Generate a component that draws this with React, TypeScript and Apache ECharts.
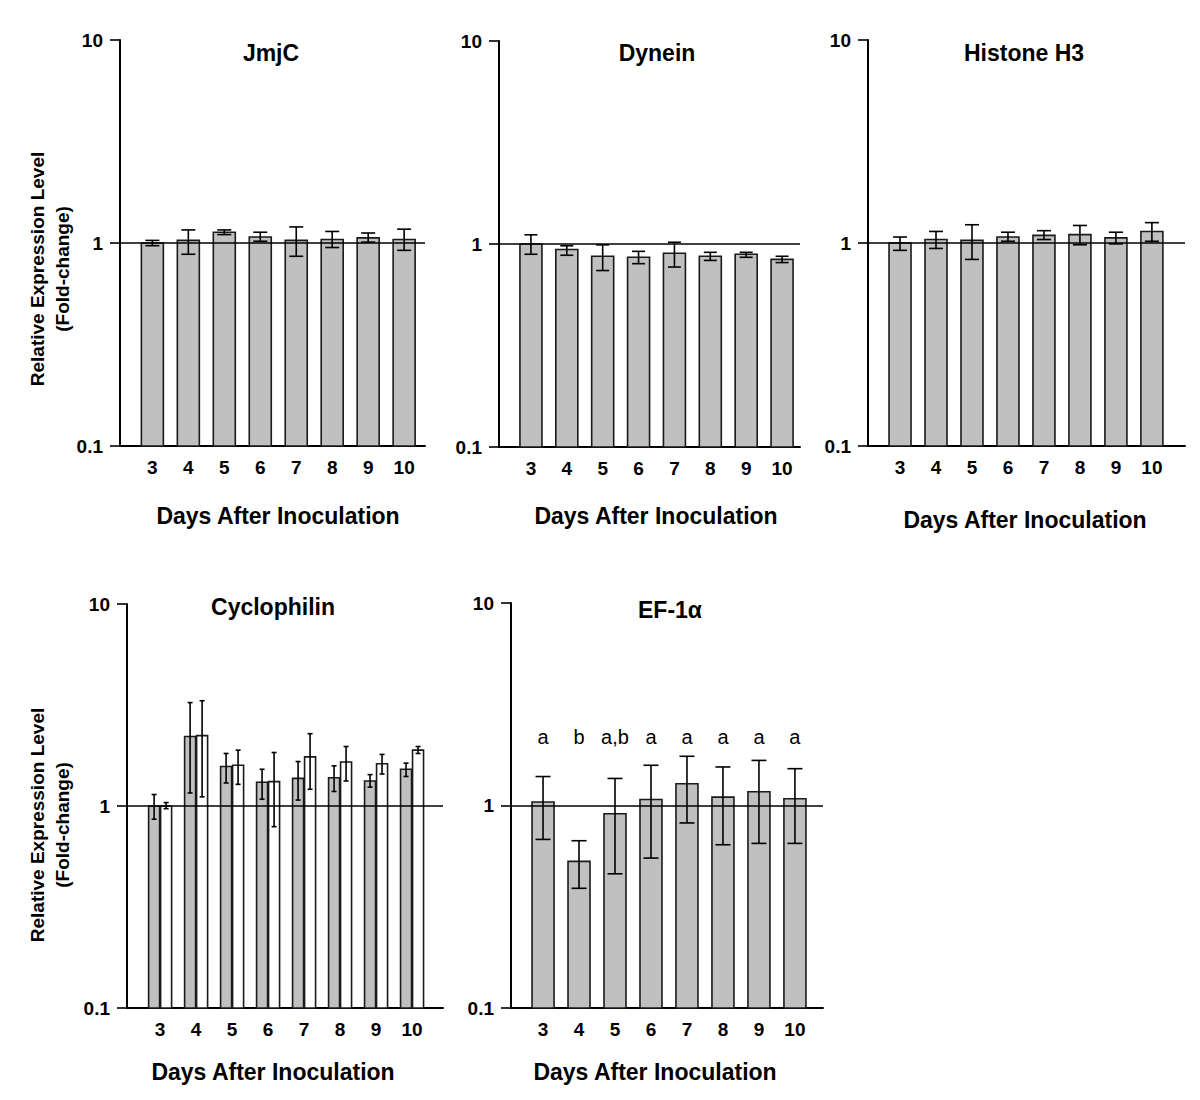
import React, { useEffect, useRef } from "react";
import * as echarts from "echarts";

const days = [3, 4, 5, 6, 7, 8, 9, 10];
const yTicks = [0.1, 1, 10];

const jmjcMean = [1.0, 1.03, 1.13, 1.07, 1.03, 1.04, 1.06, 1.04];
const jmjcLow = [0.97, 0.88, 1.1, 1.02, 0.86, 0.95, 1.01, 0.92];
const jmjcHigh = [1.03, 1.16, 1.16, 1.13, 1.2, 1.14, 1.12, 1.17];

const dyneinMean = [1.0, 0.94, 0.87, 0.86, 0.9, 0.87, 0.89, 0.84];
const dyneinLow = [0.89, 0.88, 0.74, 0.8, 0.77, 0.83, 0.86, 0.81];
const dyneinHigh = [1.11, 0.98, 0.99, 0.92, 1.02, 0.91, 0.91, 0.87];

const histoneMean = [1.0, 1.04, 1.03, 1.07, 1.09, 1.1, 1.06, 1.14];
const histoneLow = [0.92, 0.94, 0.83, 1.02, 1.04, 0.98, 0.99, 1.02];
const histoneHigh = [1.07, 1.14, 1.23, 1.13, 1.15, 1.22, 1.13, 1.26];

const cycloGrayMean = [1.0, 2.21, 1.57, 1.31, 1.37, 1.38, 1.33, 1.52];
const cycloGrayLow = [0.86, 1.16, 1.3, 1.08, 1.07, 1.18, 1.24, 1.4];
const cycloGrayHigh = [1.14, 3.25, 1.82, 1.52, 1.66, 1.58, 1.43, 1.63];
const cycloWhiteMean = [1.0, 2.23, 1.59, 1.32, 1.75, 1.65, 1.62, 1.89];
const cycloWhiteLow = [0.97, 1.11, 1.28, 0.79, 1.21, 1.33, 1.44, 1.82];
const cycloWhiteHigh = [1.04, 3.32, 1.89, 1.84, 2.28, 1.97, 1.8, 1.97];

const ef1Mean = [1.04, 0.53, 0.91, 1.07, 1.28, 1.1, 1.17, 1.08];
const ef1Low = [0.68, 0.39, 0.46, 0.55, 0.82, 0.64, 0.65, 0.65];
const ef1High = [1.39, 0.67, 1.36, 1.58, 1.75, 1.55, 1.67, 1.52];
const ef1Letters = ["a", "b", "a,b", "a", "a", "a", "a", "a"];
const ef1LetterLevel = 2.18;

const FONT = "'Liberation Sans', Arial, Helvetica, sans-serif";
const BAR_GRAY = "#c0c0c0";

// panel layout (pixels) and x ranges
const panels = [
  { left: 120, top: 40, width: 305, height: 406, xMin: 2.1, xMax: 10.58 },
  { left: 499, top: 41, width: 301, height: 406, xMin: 2.11, xMax: 10.5 },
  { left: 868, top: 40, width: 317, height: 406, xMin: 2.11, xMax: 10.92 },
  { left: 127, top: 604, width: 316, height: 404, xMin: 2.08, xMax: 10.86 },
  { left: 511, top: 603, width: 312, height: 405, xMin: 2.11, xMax: 10.78 },
];

function zip(mean: number[], low: number[], high: number[]) {
  return days.map((d, i) => [d, mean[i], low[i], high[i]]);
}

function barRenderer(opts: { offset: number; width: number; fill: string; cap: number }) {
  return (params: any, api: any) => {
    const x = api.value(0);
    const m = api.value(1);
    const lo = api.value(2);
    const hi = api.value(3);
    const pTop = api.coord([x, m]);
    const pBase = api.coord([x, 0.1]);
    const pLo = api.coord([x, lo]);
    const pHi = api.coord([x, hi]);
    const cx = pTop[0] + opts.offset;
    const hw = opts.cap / 2;
    const ls = { stroke: "#000", lineWidth: 1.6 };
    return {
      type: "group",
      children: [
        {
          type: "rect",
          shape: { x: cx - opts.width / 2, y: pTop[1], width: opts.width, height: pBase[1] - pTop[1] },
          style: { fill: opts.fill, stroke: "#1a1a1a", lineWidth: 1.6 },
        },
        { type: "line", shape: { x1: cx, y1: pHi[1], x2: cx, y2: pLo[1] }, style: ls },
        { type: "line", shape: { x1: cx - hw, y1: pHi[1], x2: cx + hw, y2: pHi[1] }, style: ls },
        { type: "line", shape: { x1: cx - hw, y1: pLo[1], x2: cx + hw, y2: pLo[1] }, style: ls },
      ],
    };
  };
}

const refLine = {
  silent: true,
  symbol: ["none", "none"],
  label: { show: false },
  lineStyle: { color: "#000", width: 1.5, type: "solid" },
  data: [{ yAxis: 1 }],
};

function App() {
  const ref = useRef<HTMLDivElement>(null);
  useEffect(() => {
    if (!ref.current) return;
    const chart = echarts.init(ref.current, null, { renderer: "svg" });

    const grid = panels.map((p) => ({ left: p.left, top: p.top, width: p.width, height: p.height, containLabel: false }));
    const xAxis = panels.map((p, i) => ({
      type: "value",
      gridIndex: i,
      min: p.xMin,
      max: p.xMax,
      splitLine: { show: false },
      axisTick: { show: false },
      axisLine: { show: true, onZero: false, lineStyle: { color: "#000", width: 2 } },
      axisLabel: {
        customValues: days,
        margin: 12,
        color: "#000",
        fontFamily: FONT,
        fontWeight: "bold",
        fontSize: 19,
      },
    }));
    const yAxis = panels.map((p, i) => ({
      type: "log",
      logBase: 10,
      gridIndex: i,
      min: yTicks[0],
      max: yTicks[yTicks.length - 1],
      splitLine: { show: false },
      minorTick: { show: false },
      axisLine: { show: true, lineStyle: { color: "#000", width: 2 } },
      axisTick: { show: true, inside: false, length: 10, lineStyle: { color: "#000", width: 1.6 } },
      axisLabel: {
        margin: 17,
        color: "#000",
        fontFamily: FONT,
        fontWeight: "bold",
        fontSize: 19,
        formatter: (v: number) => (v < 1 ? v.toFixed(1) : String(Math.round(v))),
      },
    }));

    const single = { offset: 0, width: 22, fill: BAR_GRAY, cap: 14 };
    const series: any[] = [
      {
        type: "custom",
        xAxisIndex: 0,
        yAxisIndex: 0,
        renderItem: barRenderer(single),
        encode: { x: 0, y: [1, 2, 3] },
        data: zip(jmjcMean, jmjcLow, jmjcHigh),
        markLine: refLine,
      },
      {
        type: "custom",
        xAxisIndex: 1,
        yAxisIndex: 1,
        renderItem: barRenderer({ ...single, cap: 13 }),
        encode: { x: 0, y: [1, 2, 3] },
        data: zip(dyneinMean, dyneinLow, dyneinHigh),
        markLine: refLine,
      },
      {
        type: "custom",
        xAxisIndex: 2,
        yAxisIndex: 2,
        renderItem: barRenderer(single),
        encode: { x: 0, y: [1, 2, 3] },
        data: zip(histoneMean, histoneLow, histoneHigh),
        markLine: refLine,
      },
      {
        type: "custom",
        xAxisIndex: 3,
        yAxisIndex: 3,
        renderItem: barRenderer({ offset: -6, width: 11, fill: BAR_GRAY, cap: 5 }),
        encode: { x: 0, y: [1, 2, 3] },
        data: zip(cycloGrayMean, cycloGrayLow, cycloGrayHigh),
        markLine: refLine,
      },
      {
        type: "custom",
        xAxisIndex: 3,
        yAxisIndex: 3,
        renderItem: barRenderer({ offset: 6, width: 11, fill: "#ffffff", cap: 5 }),
        encode: { x: 0, y: [1, 2, 3] },
        data: zip(cycloWhiteMean, cycloWhiteLow, cycloWhiteHigh),
      },
      {
        type: "custom",
        xAxisIndex: 4,
        yAxisIndex: 4,
        renderItem: barRenderer({ ...single, cap: 15 }),
        encode: { x: 0, y: [1, 2, 3] },
        data: zip(ef1Mean, ef1Low, ef1High),
        markLine: refLine,
      },
      {
        type: "custom",
        xAxisIndex: 4,
        yAxisIndex: 4,
        encode: { x: 0, y: 1 },
        data: days.map((d, i) => [d, ef1LetterLevel, i]),
        renderItem: (params: any, api: any) => {
          const p = api.coord([api.value(0), api.value(1)]);
          return {
            type: "text",
            x: p[0],
            y: p[1],
            style: {
              text: ef1Letters[api.value(2)],
              fill: "#000",
              font: `20px ${FONT}`,
              align: "center",
              verticalAlign: "middle",
            },
          };
        },
      },
    ];

    const titleFont = `bold 23px ${FONT}`;
    const axisNameFont = `bold 23px ${FONT}`;
    const t = (text: string, x: number, y: number, font: string) => ({
      type: "text",
      x,
      y,
      style: { text, font, fill: "#000", align: "center", verticalAlign: "middle" },
    });
    const yName = (x: number, y: number) => ({
      type: "text",
      x,
      y,
      rotation: Math.PI / 2,
      style: {
        text: "Relative Expression Level\n(Fold-change)",
        font: `bold 19px ${FONT}`,
        lineHeight: 25,
        fill: "#000",
        align: "center",
        verticalAlign: "middle",
      },
    });

    const graphic = [
      t("JmjC", 271, 53, titleFont),
      t("Dynein", 657, 53, titleFont),
      t("Histone H3", 1024, 53, titleFont),
      t("Cyclophilin", 273, 607, titleFont),
      t("EF-1α", 670, 610, titleFont),
      t("Days After Inoculation", 278, 516, axisNameFont),
      t("Days After Inoculation", 656, 516, axisNameFont),
      t("Days After Inoculation", 1025, 520, axisNameFont),
      t("Days After Inoculation", 273, 1072, axisNameFont),
      t("Days After Inoculation", 655, 1072, axisNameFont),
      yName(50, 269),
      yName(50, 825),
    ];

    chart.setOption({
      animation: false,
      backgroundColor: "#ffffff",
      grid,
      xAxis,
      yAxis,
      series,
      graphic,
    });
    return () => chart.dispose();
  }, []);
  return (
    <div
      ref={ref}
      style={{ position: "absolute", left: 0, top: 0, width: 1200, height: 1100 }}
    />
  );
}

export default App;
